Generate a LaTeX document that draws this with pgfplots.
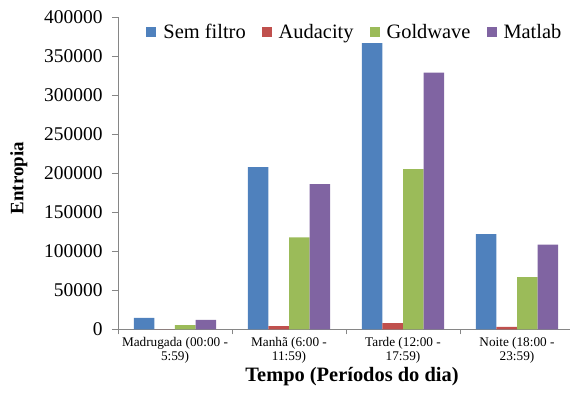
\documentclass[border=0pt]{standalone}
\usepackage{pgfplots}
\pgfplotsset{compat=1.18}
\usepackage{fontspec}
\setmainfont{Liberation Serif}

\definecolor{sfblue}{HTML}{4F81BD}
\definecolor{audred}{HTML}{C0504D}
\definecolor{gwgreen}{HTML}{9BBB59}
\definecolor{mlpurple}{HTML}{8064A2}
\definecolor{axisgray}{HTML}{868686}

\begin{document}
\begin{tikzpicture}
\path[use as bounding box] (-118bp,-64.7bp) rectangle (452bp,329.3bp);
\begin{axis}[
  scale only axis,
  width=456bp, height=312bp,
  ybar=0pt, bar width=20.6bp,
  xmin=-0.5, xmax=3.5,
  ymin=0, ymax=400000,
  ytick={0,50000,...,400000},
  scaled y ticks=false,
  /pgf/number format/fixed,
  /pgf/number format/1000 sep={},
  /pgf/number format/assume math mode=true,
  axis x line*=bottom, axis y line*=left,
  axis line style={draw=axisgray, line width=0.8bp},
  every tick/.style={draw=axisgray, line width=0.8bp},
  tick align=outside,
  xtick={0,1,2,3},
  major x tick style={draw=none},
  minor xtick={-0.5,0.5,1.5,2.5,3.5},
  minor tick length=5bp,
  major tick length=6bp,
  xticklabels={{Madrugada (00:00 -\\5:59)},{Manhã (6:00 -\\11:59)},{Tarde (12:00 -\\17:59)},{Noite (18:00 -\\23:59)}},
  xticklabel style={align=center, font=\rmfamily\fontsize{13.3}{14.2}\selectfont, yshift=2bp},
  yticklabel style={font=\rmfamily\fontsize{19.5}{21}\selectfont, xshift=-6bp},
  xlabel={Tempo (Períodos do dia)},
  ylabel={Entropia},
  xlabel style={font=\rmfamily\bfseries\fontsize{20.5}{22}\selectfont, xshift=6bp, yshift=3bp},
  ylabel style={font=\rmfamily\bfseries\fontsize{19}{21}\selectfont, yshift=10bp, xshift=-5bp},
  legend columns=4,
  legend image code/.code={\fill[#1] (0bp,-5bp) rectangle (10bp,5bp);},
  legend style={at={(0.062,0.953)}, anchor=west, draw=none, fill=none,
    inner sep=0pt, nodes={inner sep=0pt}, font=\rmfamily\fontsize{20.5}{22}\selectfont,
    /tikz/every odd column/.append style={column sep=7bp},
    /tikz/every even column/.append style={column sep=16bp}},
]
\addplot[fill=sfblue, draw=none] coordinates {(0,14500) (1,208000) (2,367000) (3,122000)};
\addplot[fill=audred, draw=none] coordinates {(0,0) (1,4200) (2,8000) (3,3000)};
\addplot[fill=gwgreen, draw=none] coordinates {(0,5500) (1,118000) (2,205500) (3,67000)};
\addplot[fill=mlpurple, draw=none] coordinates {(0,12000) (1,186000) (2,329000) (3,108500)};
\legend{Sem filtro, Audacity, Goldwave, Matlab}
\end{axis}
\end{tikzpicture}
\end{document}
